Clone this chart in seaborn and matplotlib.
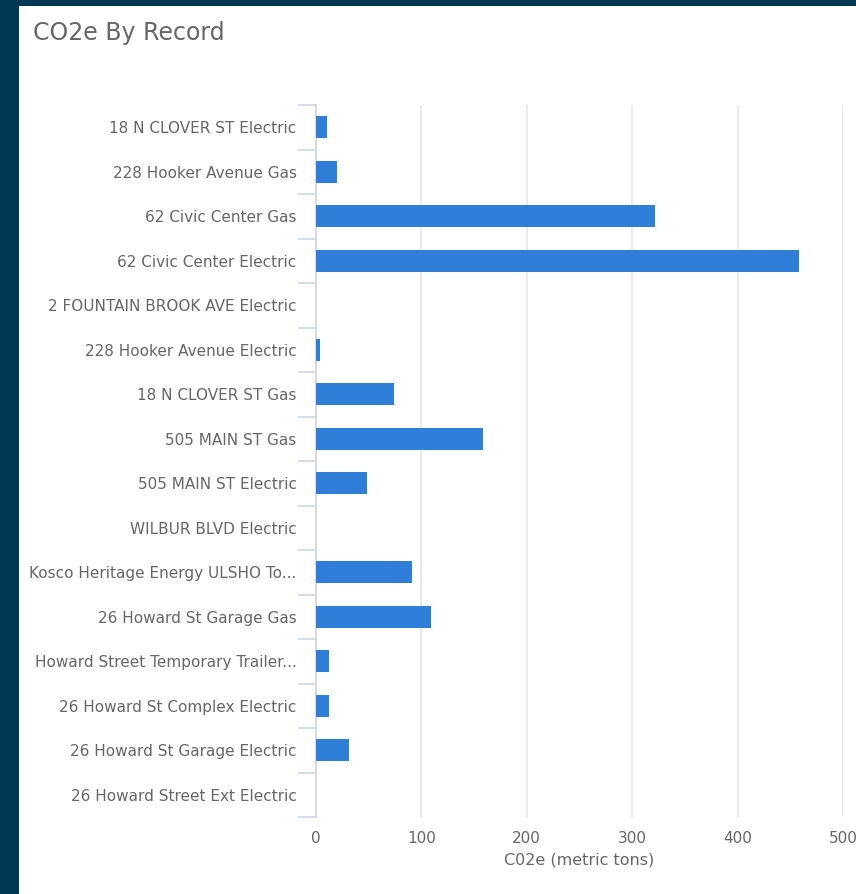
import numpy as np
import pandas as pd
import matplotlib
matplotlib.use("Agg")
import matplotlib.pyplot as plt
from matplotlib.patches import Rectangle
from matplotlib.ticker import FixedLocator
import seaborn as sns

records = [
    "18 N CLOVER ST Electric",
    "228 Hooker Avenue Gas",
    "62 Civic Center Gas",
    "62 Civic Center Electric",
    "2 FOUNTAIN BROOK AVE Electric",
    "228 Hooker Avenue Electric",
    "18 N CLOVER ST Gas",
    "505 MAIN ST Gas",
    "505 MAIN ST Electric",
    "WILBUR BLVD Electric",
    "Kosco Heritage Energy ULSHO To...",
    "26 Howard St Garage Gas",
    "Howard Street Temporary Trailer...",
    "26 Howard St Complex Electric",
    "26 Howard St Garage Electric",
    "26 Howard Street Ext Electric",
]
co2e = [10, 19.5, 322, 458, 0, 4, 74, 158, 48, 0, 91, 109, 12, 12, 31, 0]
x_ticks = [0, 100, 200, 300, 400, 500]

df = pd.DataFrame({"Record": records, "CO2e": co2e})

sns.set_style("white")
plt.rcParams["font.family"] = ["DejaVu Sans"]

W, H = 856, 894
fig = plt.figure(figsize=(W / 100, H / 100), dpi=100)
fig.patch.set_facecolor("#003856")
# white panel inside the navy frame
fig.patches.append(Rectangle((19 / W, 0), 1 - 19 / W, 1 - 6 / H,
                             transform=fig.transFigure, facecolor="white",
                             edgecolor="none", zorder=-1))

ax = fig.add_axes([316 / W, 1 - 817 / H, (843 - 316) / W, (817 - 105) / H])
ax.set_facecolor("none")

sns.barplot(data=df, x="CO2e", y="Record", orient="h", color="#2f7ed8",
            width=0.5, saturation=1, linewidth=0, ax=ax, zorder=3)

ax.set_xlim(0, 500)
ax.set_ylim(len(records) - 0.5, -0.5)
ax.set_xticks(x_ticks)
ax.xaxis.grid(True, color="#e6e6e6", linewidth=1.2, zorder=0)
ax.set_axisbelow(True)

for side in ["top", "right", "bottom"]:
    ax.spines[side].set_visible(False)
ax.spines["left"].set_color("#ccd6eb")
ax.spines["left"].set_linewidth(1.2)

# tick marks between categories, like the original
ax.yaxis.set_minor_locator(FixedLocator(np.arange(-0.5, len(records), 1)))
ax.tick_params(axis="y", which="minor", left=True, length=13, color="#ccd6eb", width=1.2)
ax.tick_params(axis="y", which="major", left=True, length=0, pad=14, labelsize=11,
               labelcolor="#666666")
ax.tick_params(axis="x", length=0, pad=10, labelsize=11, labelcolor="#666666")

ax.set_ylabel("")
ax.set_xlabel("C02e (metric tons)", fontsize=11.5, color="#666666", labelpad=5)

fig.text(33 / W, 1 - 33 / H, "CO2e By Record", fontsize=17, color="#666666",
         ha="left", va="center")

fig.savefig("out.png", dpi=100, facecolor=fig.get_facecolor())
